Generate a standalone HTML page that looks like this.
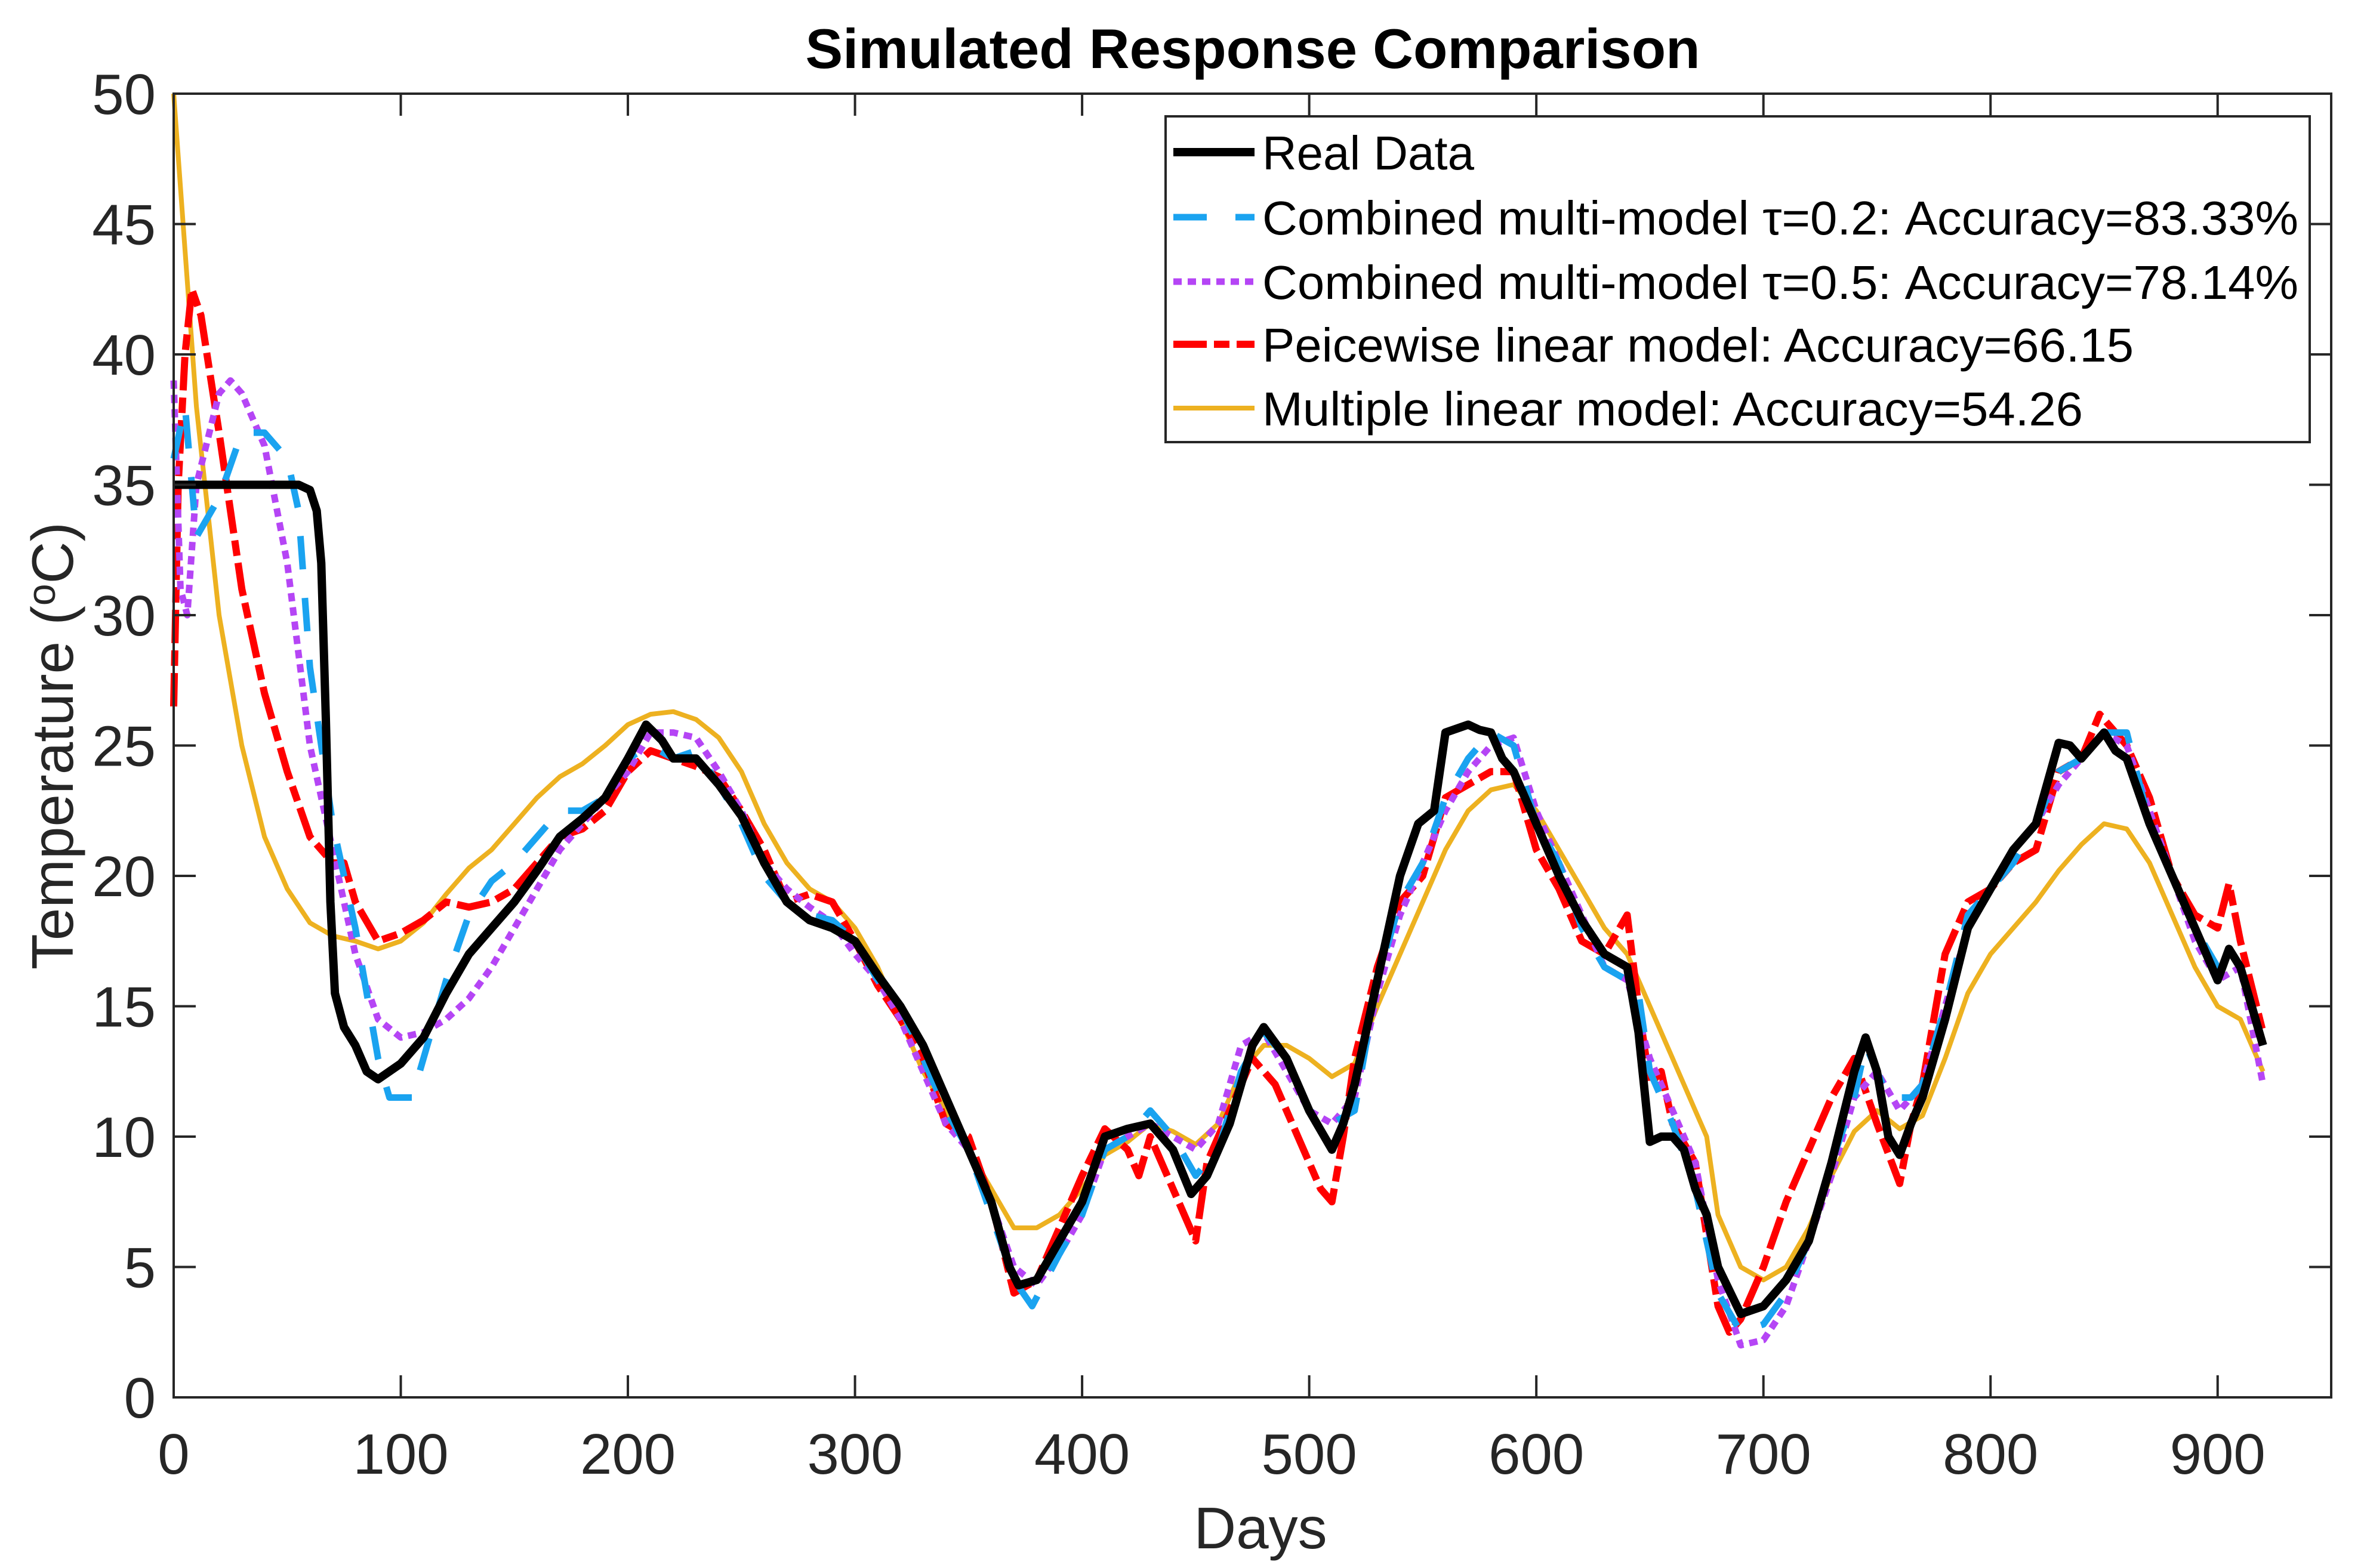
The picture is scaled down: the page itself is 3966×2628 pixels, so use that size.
<!DOCTYPE html>
<html><head><meta charset="utf-8"><style>
html,body{margin:0;padding:0;background:#fff;}
svg{display:block;font-family:"Liberation Sans",Arial,sans-serif;}
</style></head><body>
<svg id="chart" width="3966" height="2628" viewBox="0 0 3966 2628" xmlns="http://www.w3.org/2000/svg">
<rect x="0" y="0" width="3966" height="2628" fill="#fff"/>
<text x="2099" y="114" text-anchor="middle" font-size="94" font-weight="bold" fill="#000">Simulated Response Comparison</text>
<g id="series"></g>
<g id="axes"></g>
<text x="2112" y="2595" text-anchor="middle" font-size="98" fill="#262626">Days</text>
<text transform="translate(122,1250) rotate(-90)" text-anchor="middle" font-size="98" fill="#262626">Temperature (<tspan dy="-30" font-size="66">o</tspan><tspan dy="30">C)</tspan></text>
<g id="legend">
<rect x="1953" y="195" width="1917" height="546" fill="#fff" stroke="#262626" stroke-width="4"/>
</g>
</svg>
<script>
const xTicks = [0,100,200,300,400,500,600,700,800,900];
const yTicks = [0,5,10,15,20,25,30,35,40,45,50];
const realDays = [0,10,55,60,63,65,67,69,71,75,80,85,90,100,110,120,130,140,150,160,170,180,190,200,208,215,220,230,240,250,260,270,280,290,300,310,320,330,340,350,360,368,372,380,390,400,410,420,430,440,448,455,465,475,480,490,500,510,515,520,530,540,548,555,560,570,575,580,585,590,600,610,620,630,640,645,650,655,660,665,670,675,680,690,700,710,720,730,740,745,750,755,760,765,770,780,790,800,810,820,830,835,840,850,855,860,870,880,890,900,905,910,920];
const realVals = [35,35,35,34.8,34,32,26,19,15.5,14.2,13.5,12.5,12.2,12.8,13.8,15.5,17,18,19,20.2,21.5,22.2,23,24.5,25.8,25.2,24.5,24.5,23.5,22.3,20.5,19,18.3,18,17.5,16.2,15,13.5,11.5,9.5,7.5,5,4.3,4.5,6,7.5,10,10.3,10.5,9.5,7.8,8.5,10.5,13.5,14.2,13,11,9.5,10.5,12,16,20,22,22.5,25.5,25.8,25.6,25.5,24.5,24,22,20,18.3,17,16.5,14,9.8,10,10,9.5,8,7,5,3.2,3.5,4.5,6,9,12.5,13.8,12.5,10,9.3,10.5,11.5,14.5,18,19.5,21,22,25.1,25,24.5,25.5,24.8,24.5,22,20,18,16,17.2,16.5,13.5];
const tau02Days = [0,5,10,20,30,40,50,55,60,65,70,80,90,95,105,110,120,130,140,150,160,170,180,190,200,210,220,230,240,250,260,270,280,290,300,310,320,330,340,350,360,370,378,390,400,410,420,430,440,450,460,470,480,490,500,510,520,530,540,550,560,570,580,590,600,610,620,630,640,645,650,660,670,680,690,700,710,720,730,740,745,755,765,770,780,790,800,810,820,830,840,850,860,870,880,890,900,910,920];
const tau02Vals = [36,38,33,34.5,37,37,36,34,28,25,22,18,13,11.5,11.5,13,16,18.5,19.8,20.5,21.5,22.5,22.5,23,24.5,25,24.5,24.8,23.5,22,20,19,18.5,18.3,17.5,16,15,13,11,9.5,7,4.5,3.5,5.5,7,9.5,10,11,10,8.5,9.5,12.5,14,13,11,10.5,11,16,19,20.5,23,24.5,25.5,25,22,20.5,18,16.5,16,15.5,12.5,10.5,8,4,2.5,2.8,4,6,9,11.5,13.5,11.5,11.5,12,15,18.5,19.5,20.5,22,24,24.5,25.5,25.5,22,20,18,16.5,16.5,13.5];
const tau05Days = [0,3,6,10,20,25,30,40,50,60,70,80,90,100,110,120,130,140,150,160,170,180,190,200,210,220,230,240,250,260,270,280,290,300,310,320,330,340,350,360,370,380,390,400,410,420,430,440,450,460,470,480,490,500,510,520,530,540,550,560,570,580,590,600,610,620,630,640,650,660,670,680,690,700,710,720,730,740,750,760,770,780,790,800,810,820,830,840,850,860,870,880,890,900,910,920];
const tau05Vals = [39,31,30,35,38.5,39,38.5,36.5,32,25,21,17,14.5,13.8,14,14.5,15.3,16.5,18,19.5,21,22,23,24,25.5,25.5,25.3,24,22.5,20.5,19.5,18.8,18.2,17,16,14.5,12.5,10.5,9.5,7.5,5,4.3,5.5,7,9.5,10,10.5,10,9.5,10.5,13.5,14,12.5,11,10.5,11.5,15.5,18.5,20.5,22.5,24,25,25.3,22.5,20.5,18.5,16.5,16,13,11,9,4.5,2,2.2,3.5,6,8.5,11.5,12.5,11,12,15,18,19.5,21,22,23.5,24.5,25.5,25,22.5,20,17.5,16,16.5,12];
const pwDays = [0,2,5,8,12,20,30,40,50,60,70,75,80,90,100,110,120,130,140,150,160,170,180,190,200,210,220,230,240,250,260,270,280,290,300,310,320,330,340,350,360,370,380,390,400,410,420,425,430,440,450,455,465,475,485,495,505,510,515,520,530,540,550,560,570,580,590,600,610,620,630,640,645,650,655,660,670,680,685,690,700,710,720,730,740,750,760,765,770,780,790,800,810,820,830,840,848,860,870,880,890,900,905,910,920];
const pwVals = [26.5,35,40,42.5,41.5,37,31,27,24,21.5,20.5,20.5,19,17.5,17.8,18.3,19,18.8,19,19.5,20.5,21.5,21.8,22.5,24,24.8,24.5,24.2,23.8,22.5,21,19,19.3,19,17.5,15.8,14.5,13,10.5,10,7.5,4,4.5,6.5,8.5,10.3,9.5,8.5,10,8,6,9,11,13,12,10,8,7.5,10,13,16.5,19,20,23,23.5,24,24,21,19.5,17.5,17,18.5,15,12,12.5,10.5,9,3.5,2.5,3,5,7.5,9.5,11.5,13,10.5,8.2,10.5,12,17,19,19.5,20.5,21,24,24.5,26.2,25,23,20,18.5,18,19.7,17.5,14];
const mlDays = [0,5,10,20,30,40,50,60,70,80,90,100,110,120,130,140,150,160,170,180,190,200,210,220,230,240,250,260,270,280,290,300,310,320,330,340,350,360,370,380,390,400,410,420,430,440,450,460,470,480,490,500,510,520,530,540,550,560,570,580,590,600,610,620,630,640,650,660,670,675,680,690,700,710,720,730,740,750,760,770,780,790,800,810,820,830,840,850,860,870,880,890,900,910,920];
const mlVals = [50,44,38,30,25,21.5,19.5,18.2,17.7,17.5,17.2,17.5,18.2,19.3,20.3,21,22,23,23.8,24.3,25,25.8,26.2,26.3,26,25.3,24,22,20.5,19.5,19,18,16.5,14.5,12.5,11,9.5,8,6.5,6.5,7,8,9.3,9.8,10.5,10.2,9.7,10.5,12.5,13.5,13.5,13,12.3,12.8,15,17,19,21,22.5,23.3,23.5,22.5,21,19.5,18,17,15,13,11,10,7,5,4.5,5,6.5,8.5,10.2,11,10.3,10.8,13,15.5,17,18,19,20.2,21.2,22,21.8,20.5,18.5,16.5,15,14.5,12.5];
const legendLabels = ["Real Data","Combined multi-model \u03C4=0.2: Accuracy=83.33%","Combined multi-model \u03C4=0.5: Accuracy=78.14%","Peicewise linear model: Accuracy=66.15","Multiple linear model: Accuracy=54.26"];
const legendWidths = [355,1736,1736,1460,1375];

const NS = "http://www.w3.org/2000/svg";
const X0 = 291, X1 = 3906, Y0 = 2342, Y1 = 157;
function sx(d){ return X0 + (d/950)*(X1-X0); }
function sy(v){ return Y0 - (v/50)*(Y0-Y1); }
function mk(tag, attrs, parent){ const e=document.createElementNS(NS,tag); for(const k in attrs) e.setAttribute(k,attrs[k]); parent.appendChild(e); return e; }

const styles = [
 {c:"#000000", w:14, dash:"", name:"series-real-data", days:realDays, vals:realVals},
 {c:"#1AA3F0", w:11, dash:"56 48", name:"series-tau-0-2", days:tau02Days, vals:tau02Vals},
 {c:"#B545F5", w:11, dash:"14 10", name:"series-tau-0-5", days:tau05Days, vals:tau05Vals},
 {c:"#FF0000", w:12, dash:"56 12 26 12", name:"series-piecewise", days:pwDays, vals:pwVals},
 {c:"#EDB120", w:8, dash:"", name:"series-multiple-linear", days:mlDays, vals:mlVals}
];
const sg = document.getElementById('series');
[4,3,2,1,0].forEach(i=>{
  const s = styles[i];
  const pts = s.days.map((d,j)=>sx(d).toFixed(1)+","+sy(s.vals[j]).toFixed(1)).join(" ");
  const p = mk('polyline',{points:pts,fill:"none",stroke:s.c,"stroke-width":s.w,"stroke-linejoin":"round"},sg);
  if(s.dash) p.setAttribute('stroke-dasharray',s.dash);
  
  
});

const ag = document.getElementById('axes');
const box = mk('rect',{x:X0,y:Y1,width:X1-X0,height:Y0-Y1,fill:"none",stroke:"#262626","stroke-width":4},ag);


xTicks.forEach(t=>{
  const x=sx(t);
  mk('line',{x1:x,y1:Y0,x2:x,y2:Y0-37,stroke:"#262626","stroke-width":4},ag);
  mk('line',{x1:x,y1:Y1,x2:x,y2:Y1+37,stroke:"#262626","stroke-width":4},ag);
  const tx = mk('text',{x:x,y:Y0+128,"text-anchor":"middle","font-size":96,fill:"#262626"},ag);
  tx.textContent = t;
  
  
});
yTicks.forEach(t=>{
  const y=sy(t);
  mk('line',{x1:X0,y1:y,x2:X0+37,y2:y,stroke:"#262626","stroke-width":4},ag);
  mk('line',{x1:X1,y1:y,x2:X1-37,y2:y,stroke:"#262626","stroke-width":4},ag);
  const tx = mk('text',{x:X0-30,y:y+34,"text-anchor":"end","font-size":96,fill:"#262626"},ag);
  tx.textContent = t;
  
  
});

const lg = document.getElementById('legend');
const rowY = [255,364,472,577,684];
styles.forEach((s,i)=>{
  const l = mk('line',{x1:1966,y1:rowY[i],x2:2102,y2:rowY[i],stroke:s.c,"stroke-width":s.w},lg);
  if(s.dash) l.setAttribute('stroke-dasharray',s.dash);
  
  
  const tx = mk('text',{x:2115,y:rowY[i]+29,"font-size":80,fill:"#000",textLength:legendWidths[i],lengthAdjust:"spacingAndGlyphs"},lg);
  tx.textContent = legendLabels[i];
  
  
});
</script>
</body></html>
